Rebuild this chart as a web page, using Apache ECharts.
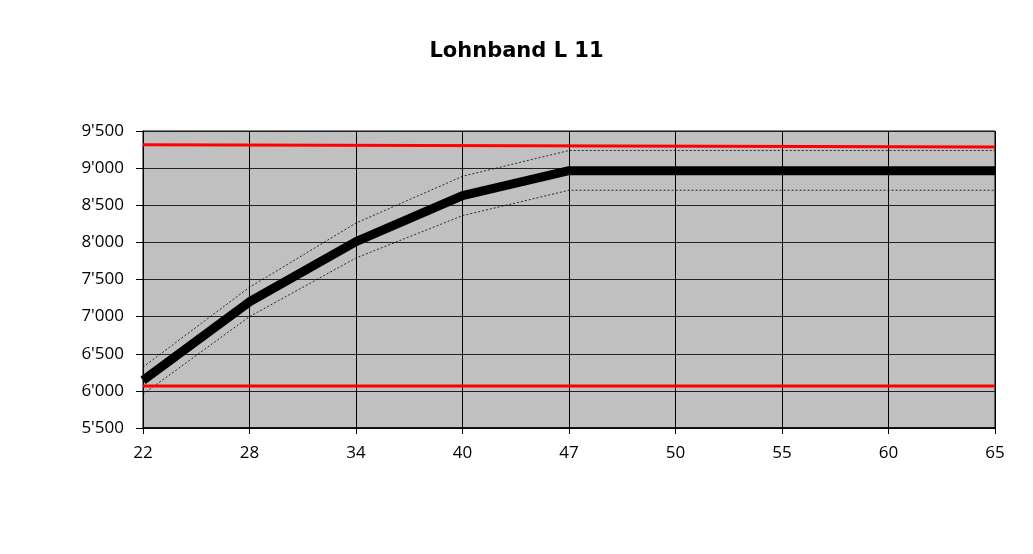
<!DOCTYPE html>
<html lang="de">
<head>
  <meta charset="UTF-8">
  <title>Lohnband L 11</title>
  <style>
    html, body { margin: 0; padding: 0; background: #fff; }
  </style>
</head>
<body>
  <div id="main" style="width: 1033px; height: 554px"></div>
  <script src="https://cdn.jsdelivr.net/npm/echarts@6/dist/echarts.min.js"></script>
  <script>
    // Alter (Kategorien)
    const ages = ['22', '28', '34', '40', '47', '50', '55', '60', '65']
    // Lohnband: Mittelwert, obere und untere Grenze
    const lohnMitte = [6140, 7200, 8010, 8630, 8965, 8965, 8965, 8965, 8965]
    const lohnOben = [6320, 7395, 8260, 8890, 9237, 9237, 9237, 9237, 9237]
    const lohnUnten = [5955, 7000, 7790, 8360, 8702, 8702, 8702, 8702, 8702]
    const maxLinie = [9316, null, null, null, null, null, null, null, 9284]
    const minLinie = [6067, null, null, null, null, null, null, null, 6067]

    const font = '"Open Sans", "DejaVu Sans", sans-serif'

    const myChart = echarts.init(document.getElementById('main'))
    const option = {
      animation: false,
      title: {
        text: 'Lohnband L 11',
        left: 'center',
        top: 36,
        textStyle: { fontFamily: '"DejaVu Sans", sans-serif', fontWeight: 'bold', fontSize: 21, color: '#000' }
      },
      grid: {
        left: 143, right: 38, top: 131, bottom: 126,
        show: true, backgroundColor: '#c0c0c0', borderColor: '#000', borderWidth: 1
      },
      xAxis: {
        type: 'category',
        data: ages,
        boundaryGap: false,
        axisLine: { lineStyle: { color: '#000', width: 1.5 } },
        axisTick: { length: 6, lineStyle: { color: '#000' } },
        axisLabel: { color: '#000', fontSize: 17, fontFamily: font, margin: 17 },
        splitLine: { show: true, lineStyle: { color: '#000', width: 1 } }
      },
      yAxis: {
        type: 'value',
        min: 5500, max: 9500, interval: 500,
        axisLine: { show: true, lineStyle: { color: '#000' } },
        axisTick: { show: true, length: 7, lineStyle: { color: '#000' } },
        axisLabel: {
          color: '#000', fontSize: 17, fontFamily: font, margin: 19,
          formatter: v => String(v).replace(/\B(?=(\d{3})+(?!\d))/g, "'")
        },
        splitLine: { lineStyle: { color: '#222', width: 1 } }
      },
      series: [
        {
          type: 'line', data: lohnOben, symbol: 'none',
          lineStyle: { color: '#000', width: 0.8, type: [2, 2] }
        },
        {
          type: 'line', data: lohnUnten, symbol: 'none',
          lineStyle: { color: '#000', width: 0.8, type: [2, 2] }
        },
        {
          type: 'line', data: maxLinie, symbol: 'none', connectNulls: true,
          lineStyle: { color: '#ff0000', width: 3 }
        },
        {
          type: 'line', data: minLinie, symbol: 'none', connectNulls: true,
          lineStyle: { color: '#ff0000', width: 3 }
        },
        {
          type: 'line', data: lohnMitte, symbol: 'none',
          lineStyle: { color: '#000', width: 9, cap: 'butt', join: 'round' }
        }
      ]
    }
    myChart.setOption(option)
  </script>
</body>
</html>
